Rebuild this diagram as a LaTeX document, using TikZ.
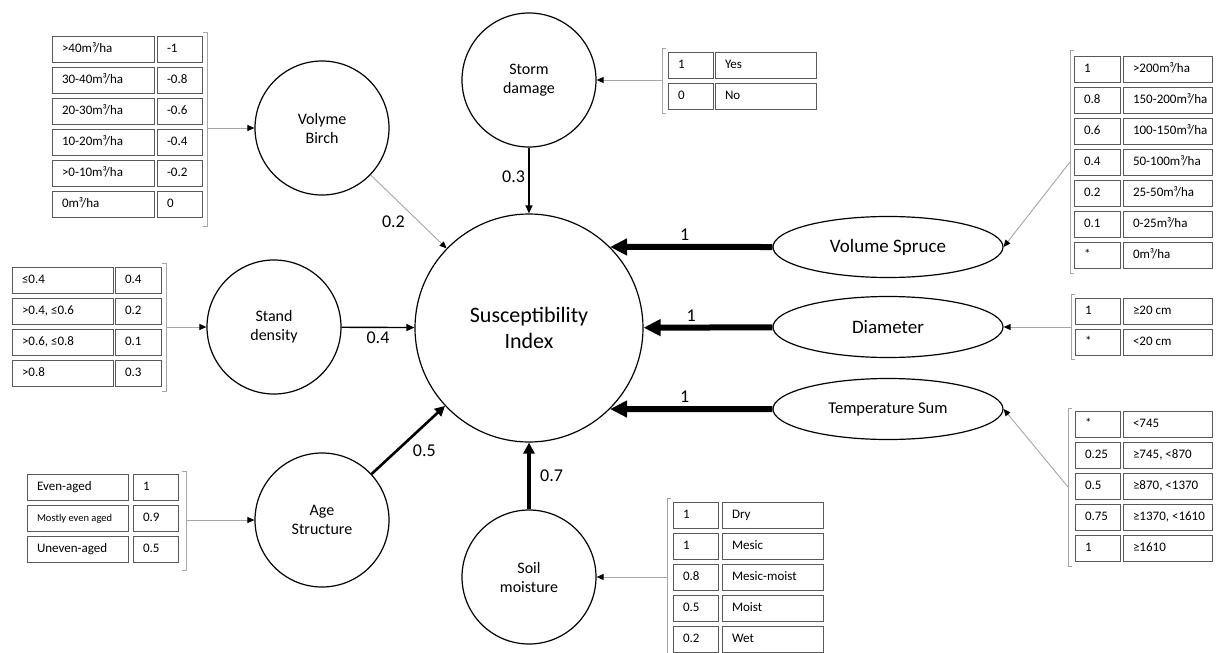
\documentclass[tikz,border=0pt]{standalone}
\usepackage{fontspec}
\setmainfont{Carlito}
\usetikzlibrary{arrows.meta,shapes.geometric}

\tikzset{
  factor/.style={circle, draw, line width=1.2pt, minimum size=134pt, inner sep=0pt, align=center, font=\fontsize{16}{19}\selectfont},
  modifier/.style={ellipse, draw, line width=1.2pt, minimum width=230pt, minimum height=61pt, inner sep=0pt, font=\fontsize{19}{22}\selectfont},
  cell/.style={draw=gray!70!black, line width=0.9pt, minimum height=26pt, inner xsep=10pt, inner ysep=0pt, text height=9pt, text depth=3pt, font=\fontsize{13}{15}\selectfont},
  bracket/.style={draw=gray!70, line width=0.9pt},
  feed/.style={draw=gray!70, line width=0.9pt, -{Triangle[length=7pt,width=6pt,color=black]}},
  light/.style={draw=gray!70, line width=0.9pt, -{Triangle[length=7pt,width=6pt,color=black]}},
  medium/.style={line width=1.4pt, -{Triangle[length=8pt,width=7pt]}},
  strong/.style={line width=2.6pt, -{Triangle[length=10pt,width=10pt]}},
  stronger/.style={line width=3.6pt, -{Triangle[length=11pt,width=11pt]}},
  heavy/.style={line width=6pt, -{Triangle[length=17pt,width=16pt]}},
  weight/.style={font=\fontsize{18}{20}\selectfont}
}

\begin{document}
\begin{tikzpicture}[x=1pt,y=-1pt]
\useasboundingbox (0,0) rectangle (1216,653);

% Index
\node[factor, minimum size=228pt, font=\fontsize{22}{26}\selectfont] (index) at (529,328) {Susceptibility\\Index};

% Factors
\node[factor] (storm) at (529,80) {Storm\\damage};
\node[factor] (birch) at (322,128) {Volyme\\Birch};
\node[factor] (density) at (274,327) {Stand\\density};
\node[factor] (age) at (322,520) {Age\\Structure};
\node[factor] (soil) at (529,577) {Soil\\moisture};

% Modifiers
\node[modifier] (spruce) at (888,247) {Volume Spruce};
\node[modifier] (diameter) at (888,327) {Diameter};
\node[modifier, font=\fontsize{16.5}{19}\selectfont] (tempsum) at (888,409) {Temperature Sum};

% Weights
\draw[medium] (storm) -- node[weight, left, pos=0.45] (w-storm) {0.3} (index);
\draw[light] (birch) -- node[weight, below left] (w-birch) {0.2} (index);
\draw[medium] (density) -- node[weight, below] (w-density) {0.4} (index);
\draw[strong] (age) -- node[weight, below right] (w-age) {0.5} (index);
\draw[stronger] (soil) -- node[weight, right=6pt] (w-soil) {0.7} (index);
\draw[heavy] (spruce.west) -- node[weight, above, pos=0.54] (w-spruce) {1} (index.45);
\draw[heavy] (diameter) -- node[weight, above, pos=0.63] (w-diameter) {1} (index);
\draw[heavy] (tempsum.west) -- node[weight, above, pos=0.54] (w-tempsum) {1} (index.-45);

% Birch table
\foreach \rng/\val [count=\i] in {{>40m³/ha}/-1, {30-40m³/ha}/-0.8, {20-30m³/ha}/-0.6, {10-20m³/ha}/-0.4, {>0-10m³/ha}/-0.2, {0m³/ha}/0}{
  \node[cell] (birch-a\i) at (103,18+31*\i) {\makebox[82pt][l]{\rng}};
  \node[cell] (birch-b\i) at (179.5,18+31*\i) {\makebox[25pt][l]{\val}};
}
\draw[bracket] (203,32) -- (207,32) -- (207,226) -- (203,226);
\coordinate (birch-in) at (207,128);
\draw[feed] (birch-in) -- (birch);

% Density table
\foreach \rng/\val [count=\i] in {≤0.4/0.4, {>0.4, ≤0.6}/0.2, {>0.6, ≤0.8}/0.1, >0.8/0.3}{
  \node[cell] (density-a\i) at (62.5,249+31*\i) {\makebox[81pt][l]{\rng}};
  \node[cell] (density-b\i) at (138,249+31*\i) {\makebox[26pt][l]{\val}};
}
\draw[bracket] (162,263) -- (166,263) -- (166,391) -- (162,391);
\coordinate (density-in) at (166,327);
\draw[feed] (density-in) -- (density);

% Age table
\foreach \rng/\val [count=\i] in {Even-aged/1, {\fontsize{10.5}{12}\selectfont Mostly even aged}/0.9, Uneven-aged/0.5}{
  \node[cell] (age-a\i) at (77.5,456+31*\i) {\makebox[81pt][l]{\rng}};
  \node[cell] (age-b\i) at (155.5,456+31*\i) {\makebox[25pt][l]{\val}};
}
\draw[bracket] (182,471) -- (186,471) -- (186,570) -- (182,570);
\coordinate (age-in) at (186,520);
\draw[feed] (age-in) -- (age);

% Storm table
\foreach \val/\lab [count=\i] in {1/Yes, 0/No}{
  \node[cell] (storm-a\i) at (690.5,34+31*\i) {\makebox[25pt][l]{\val}};
  \node[cell] (storm-b\i) at (765.5,34+31*\i) {\makebox[81pt][l]{\lab}};
}
\draw[bracket] (666,48) -- (662,48) -- (662,113) -- (666,113);
\coordinate (storm-in) at (662,80);
\draw[feed] (storm-in) -- (storm);

% Soil table
\foreach \val/\lab [count=\i] in {1/Dry, 1/Mesic, 0.8/Mesic-moist, 0.5/Moist, 0.2/Wet}{
  \node[cell] (soil-a\i) at (695.5,484+31*\i) {\makebox[25pt][l]{\val}};
  \node[cell] (soil-b\i) at (772.5,484+31*\i) {\makebox[81pt][l]{\lab}};
}
\draw[bracket] (671,498) -- (667,498) -- (667,660);
\coordinate (soil-in) at (667,577);
\draw[feed] (soil-in) -- (soil);

% Spruce table
\foreach \val/\lab [count=\i] in {1/{>200m³/ha}, 0.8/{150-200m³/ha}, 0.6/{100-150m³/ha}, 0.4/{50-100m³/ha}, 0.2/{25-50m³/ha}, 0.1/{0-25m³/ha}, */{0m³/ha}}{
  \node[cell] (spruce-a\i) at (1097,38+31*\i) {\makebox[26pt][l]{\val}};
  \node[cell] (spruce-b\i) at (1167.5,38+31*\i) {\makebox[69pt][l]{\lab}};
}
\draw[bracket] (1074,50) -- (1070,50) -- (1070,273) -- (1074,273);
\coordinate (spruce-in) at (1070,162);
\draw[feed] (spruce-in) -- (spruce.east);

% Diameter table
\foreach \val/\lab [count=\i] in {1/≥20 cm, */<20 cm}{
  \node[cell] (diameter-a\i) at (1097.5,280+31*\i) {\makebox[25pt][l]{\val}};
  \node[cell] (diameter-b\i) at (1167.5,280+31*\i) {\makebox[69pt][l]{\lab}};
}
\draw[bracket] (1075,294) -- (1071,294) -- (1071,359) -- (1075,359);
\coordinate (diameter-in) at (1071,327);
\draw[feed] (diameter-in) -- (diameter);

% Temperature table
\foreach \val/\lab [count=\i] in {*/<745, 0.25/{≥745, <870}, 0.5/{≥870, <1370}, 0.75/{≥1370, <1610}, 1/≥1610}{
  \node[cell] (tempsum-a\i) at (1097.5,393.5+31*\i) {\makebox[25pt][l]{\val}};
  \node[cell] (tempsum-b\i) at (1167.5,393.5+31*\i) {\makebox[69pt][l]{\lab}};
}
\draw[bracket] (1072,408) -- (1068,408) -- (1068,566) -- (1072,566);
\coordinate (tempsum-in) at (1068,487);
\draw[feed] (tempsum-in) -- (tempsum.east);

\end{tikzpicture}
\end{document}
